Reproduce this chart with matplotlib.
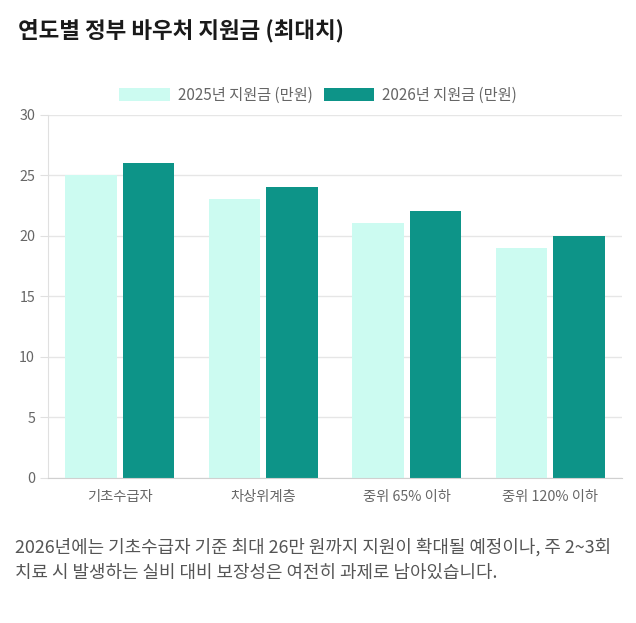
import numpy as np
import matplotlib
matplotlib.use("Agg")
import matplotlib.pyplot as plt

plt.rcParams['font.family'] = ['Noto Sans CJK KR', 'DejaVu Sans']

categories = ["기초수급자", "차상위계층", "중위 65% 이하", "중위 120% 이하"]
support_2025 = [25, 23, 21, 19]
support_2026 = [26, 24, 22, 20]
series_labels = ["2025년 지원금 (만원)", "2026년 지원금 (만원)"]
y_ticks = [0, 5, 10, 15, 20, 25, 30]

title = "연도별 정부 바우처 지원금 (최대치)"
caption = ("2026년에는 기초수급자 기준 최대 26만 원까지 지원이 확대될 예정이나, 주 2~3회\n"
           "치료 시 발생하는 실비 대비 보장성은 여전히 과제로 남아있습니다.")

light = "#ccfbf1"
teal = "#0d9488"

fig = plt.figure(figsize=(6.36, 6.23), dpi=100)
ax = fig.add_axes([0.0755, 0.2335, 0.9025, 0.5827])

x = np.arange(len(categories))
w = 0.36
ax.bar(x - 0.2, support_2025, width=w, color=light, label=series_labels[0])
ax.bar(x + 0.2, support_2026, width=w, color=teal, label=series_labels[1])

ax.set_xlim(-0.5, len(categories) - 0.5)
ax.set_ylim(0, 30)
ax.set_yticks(y_ticks)
ax.set_xticks(x)
ax.set_xticklabels(categories)

ax.grid(axis='y', color='#e6e6e6', linewidth=1)
ax.set_axisbelow(True)
for s in ['top', 'right']:
    ax.spines[s].set_visible(False)
ax.spines['left'].set_color('#e0e0e0')
ax.spines['bottom'].set_color('#d0d0d0')
ax.tick_params(axis='y', length=5.8, color='#e0e0e0', labelsize=10.3, labelcolor='#666666', pad=3.5)
ax.tick_params(axis='x', length=0, labelsize=10.3, labelcolor='#666666', pad=9)

fig.legend(loc='center', bbox_to_anchor=(0.5, 0.8467), ncol=2, frameon=False,
           fontsize=11, labelcolor='#666666', handlelength=3.3, handleheight=0.92,
           handletextpad=0.52, columnspacing=0.72)

fig.text(18 / 636, 1 - 31 / 623, title, fontsize=16.2, fontweight='bold',
         color='#1a1a1a', va='center', ha='left')
fig.text(15 / 636, 1 - 560 / 623, caption, fontsize=12.9, color='#555555',
         va='center', ha='left', linespacing=1.52)

fig.savefig("out.png", dpi=100)
